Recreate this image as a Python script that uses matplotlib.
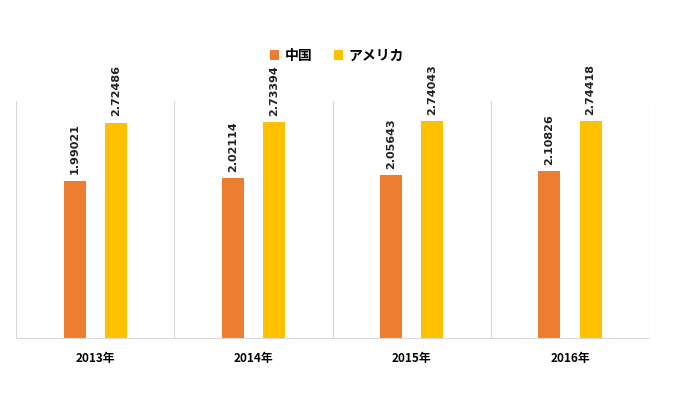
import matplotlib
matplotlib.use("Agg")
import matplotlib.pyplot as plt
import numpy as np

plt.rcParams['font.family'] = ['Noto Sans CJK JP', 'DejaVu Sans']

years = ['2013年', '2014年', '2015年', '2016年']
china = [1.99021, 2.02114, 2.05643, 2.10826]
usa = [2.72486, 2.73394, 2.74043, 2.74418]
series_names = ['中国', 'アメリカ']
colors = ['#ED7D31', '#FFC000']

fig = plt.figure(figsize=(6.74, 3.99), dpi=100)
ax = fig.add_axes([0.0237, 0.153, 0.9393, 0.594])

x = np.arange(len(years))
w = 0.139
b1 = ax.bar(x - 0.13, china, w, color=colors[0], label=series_names[0])
b2 = ax.bar(x + 0.13, usa, w, color=colors[1], label=series_names[1])

for bars, vals in ((b1, china), (b2, usa)):
    for r, v in zip(bars, vals):
        ax.text(r.get_x() + r.get_width() / 2, v + 0.08, f'{v:.5f}',
                rotation=90, ha='center', va='bottom', fontsize=8,
                fontweight='bold', family=['DejaVu Sans'], color='#222222')

ax.set_xlim(-0.5, len(years) - 0.5)
ax.set_ylim(0, 3)
ax.set_yticks([])
ax.set_xticks(x)
ax.set_xticklabels(years, fontsize=8.5, fontweight='bold')
ax.tick_params(axis='x', length=0, pad=10)
for b in np.arange(-0.5, len(years), 1):
    ax.axvline(b, color='#d9d9d9', lw=0.8, zorder=0)
for s in ['top', 'left', 'right']:
    ax.spines[s].set_visible(False)
ax.spines['bottom'].set_color('#d9d9d9')

fig.legend(handles=[b1, b2], labels=series_names, loc='center',
           bbox_to_anchor=(0.5, 0.86), ncol=2, frameon=False,
           fontsize=10, handlelength=0.7, handleheight=0.7,
           columnspacing=1.5, handletextpad=0.4,
           prop={'weight': 'bold', 'size': 10})

fig.savefig('out.png', dpi=100)
